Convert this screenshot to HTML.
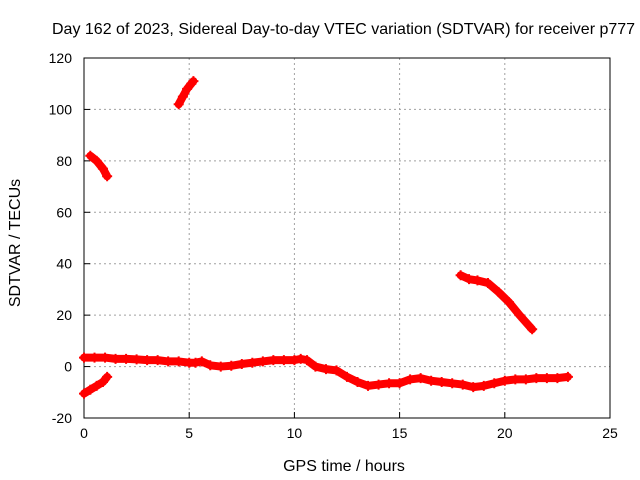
<!DOCTYPE html>
<html><head><meta charset="utf-8"><style>
body{margin:0;background:#fff}
svg{display:block;font-family:"Liberation Sans",sans-serif}
</style></head><body>
<svg id="c" width="640" height="480"></svg>
<script>
const xTicks=[0,5,10,15,20,25];
const yTicks=[-20,0,20,40,60,80,100,120];
const segMainX=[0,0.5,1,1.5,2,2.5,3,3.5,4,4.5,5,5.3,5.6,6,6.5,7,7.5,8,8.5,9,9.5,10,10.3,10.6,11,11.5,12,12.5,13,13.5,14,14.5,15,15.5,16,16.5,17,17.5,18,18.5,19,19.5,20,20.5,21,21.5,22,22.5,23];
const segMainY=[3.5,3.5,3.5,3,3,2.8,2.5,2.5,2,2,1.5,1.5,2,0.5,0,0.3,1,1.5,2,2.5,2.5,2.5,3,2.5,0,-1,-1.5,-4,-6,-7.5,-7,-6.5,-6.5,-5,-4.5,-5.5,-6,-6.5,-7,-8,-7.5,-6.5,-5.5,-5,-5,-4.5,-4.5,-4.5,-4];
const segAX=[0,0.3,0.6,0.9,1.1];
const segAY=[-10.5,-9,-7.5,-6,-4];
const segBX=[0.3,0.6,0.9,1.1];
const segBY=[82,80,77,74];
const segCX=[4.5,4.7,4.9,5.1,5.2];
const segCY=[102,105,108,110,111];
const segDX=[17.9,18.3,18.7,19.2,19.7,20.2,20.7,21.3];
const segDY=[35.5,34,33.5,32.5,29,25,20,14.5];

const L=84,R=610,T=58,B=418;
const xs=v=>L+(v-0)/25*(R-L);
const ys=v=>B-(v+20)/140*(B-T);
const svg=document.getElementById('c');
const NS='http://www.w3.org/2000/svg';
function mk(tag,attrs,parent){const e=document.createElementNS(NS,tag);for(const k in attrs)e.setAttribute(k,attrs[k]);(parent||svg).appendChild(e);return e;}

xTicks.forEach(t=>{
  if(t>0&&t<25){const g=mk('line',{x1:xs(t),x2:xs(t),y1:T,y2:B,stroke:'#a0a0a0','stroke-dasharray':'2,3'});
  
  }
  const tk=mk('line',{x1:xs(t),x2:xs(t),y1:B,y2:B-6,stroke:'#000'});
  
  
  const tx=mk('text',{x:xs(t),y:B+20,'text-anchor':'middle','font-size':14,fill:'#000'});
  tx.textContent=t;
  
  
});
yTicks.forEach(t=>{
  if(t>-20&&t<120){const g=mk('line',{x1:L,x2:R,y1:ys(t),y2:ys(t),stroke:'#a0a0a0','stroke-dasharray':'2,3'});
  
  }
  const tk=mk('line',{x1:L,x2:L+6,y1:ys(t),y2:ys(t),stroke:'#000'});
  
  
  const tx=mk('text',{x:L-12,y:ys(t)+5,'text-anchor':'end','font-size':14,fill:'#000'});
  tx.textContent=t;
  
  
});
const box=mk('rect',{x:L,y:T,width:R-L,height:B-T,fill:'none',stroke:'#000'});



function series(X,Y,name){
  const pts=X.map((x,i)=>xs(x)+','+ys(Y[i])).join(' ');
  const pl=mk('polyline',{points:pts,fill:'none',stroke:'#ff0000','stroke-width':8,'stroke-linejoin':'round','stroke-linecap':'round'});
  
  
  X.forEach((x,i)=>{
    const cx=xs(x),cy=ys(Y[i]);
    const p=mk('path',{d:`M${cx-5},${cy}H${cx+5}M${cx},${cy-5}V${cy+5}`,stroke:'#ff0000','stroke-width':2});
    
    
  });
}
series(segMainX,segMainY,'series-main');
series(segAX,segAY,'series-segment-a');
series(segBX,segBY,'series-segment-b');
series(segCX,segCY,'series-segment-c');
series(segDX,segDY,'series-segment-d');

const ti=mk('text',{x:52,y:34,'font-size':16,fill:'#000'});
ti.textContent='Day 162 of 2023, Sidereal Day-to-day VTEC variation (SDTVAR) for receiver p777';


const xt=mk('text',{x:344,y:471,'text-anchor':'middle','font-size':16,fill:'#000'});
xt.textContent='GPS time / hours';


const yt=mk('text',{x:20,y:243,'text-anchor':'middle','font-size':16,fill:'#000',transform:'rotate(-90 20 243)'});
yt.textContent='SDTVAR / TECUs';


</script>
</body></html>
